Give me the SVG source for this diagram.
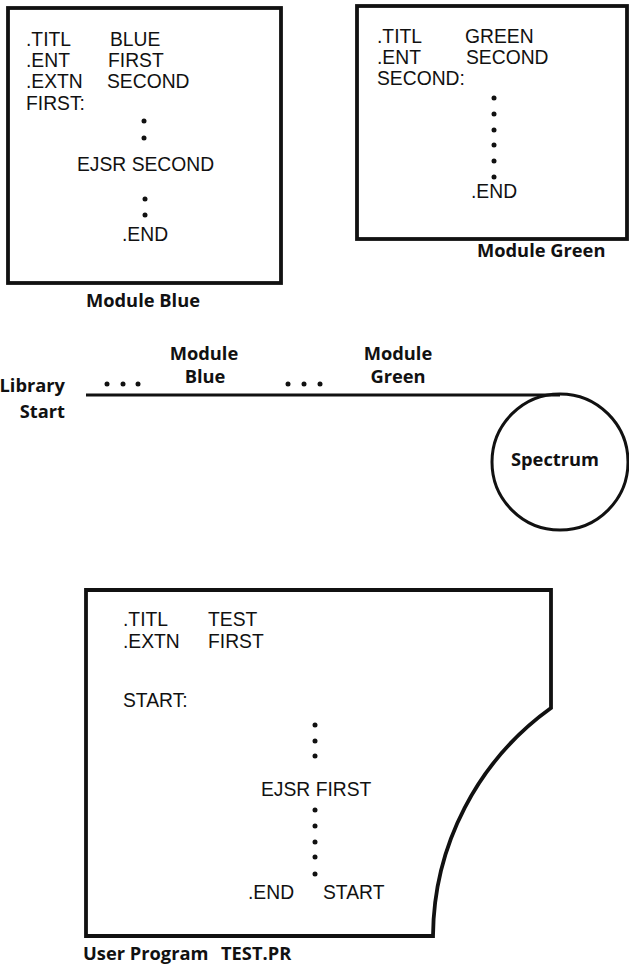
<svg xmlns="http://www.w3.org/2000/svg" width="629" height="970" viewBox="0 0 629 970">
<style>
.code{font-family:"Liberation Sans",Arial,sans-serif;font-size:19.3px;fill:#111}
.lbl{font-family:"Open Sans","Liberation Sans",sans-serif;font-weight:bold;font-size:18.3px;fill:#111}
.box{fill:#fff;stroke:#111;stroke-width:3.8}
.ln{fill:none;stroke:#111;stroke-width:3.2}
.dot{fill:#111}
</style>
<rect width="629" height="970" fill="#fff"/>
<g id="module-blue">
<rect class="box" x="8" y="8" width="273" height="275"/>
<text class="code" x="26" y="46">.TITL</text><text class="code" x="110" y="46">BLUE</text>
<text class="code" x="26" y="67">.ENT</text><text class="code" x="108" y="67">FIRST</text>
<text class="code" x="26" y="88">.EXTN</text><text class="code" x="107" y="88">SECOND</text>
<text class="code" x="26" y="110">FIRST:</text>
<circle class="dot" cx="144" cy="121" r="2.5"/><circle class="dot" cx="144" cy="138" r="2.5"/>
<text class="code" x="77" y="171">EJSR SECOND</text>
<circle class="dot" cx="145" cy="199" r="2.5"/><circle class="dot" cx="145" cy="215" r="2.5"/>
<text class="code" x="122" y="241">.END</text>
<text class="lbl" x="86" y="307">Module Blue</text>
</g>
<g id="module-green">
<rect class="box" x="357" y="6" width="270" height="233"/>
<text class="code" x="377" y="43">.TITL</text><text class="code" x="465" y="43">GREEN</text>
<text class="code" x="377" y="64">.ENT</text><text class="code" x="466" y="64">SECOND</text>
<text class="code" x="377" y="85">SECOND:</text>
<circle class="dot" cx="494" cy="98" r="2.5"/><circle class="dot" cx="494" cy="114" r="2.5"/><circle class="dot" cx="494" cy="130" r="2.5"/><circle class="dot" cx="494" cy="145" r="2.5"/><circle class="dot" cx="494" cy="161" r="2.5"/><circle class="dot" cx="494" cy="177" r="2.5"/>
<text class="code" x="471" y="198">.END</text>
<text class="lbl" x="477" y="257">Module Green</text>
</g>
<g id="library">
<line class="ln" x1="86" y1="395" x2="560" y2="395"/>
<text class="lbl" x="65" y="392" text-anchor="end">Library</text>
<text class="lbl" x="65" y="418" text-anchor="end">Start</text>
<circle class="dot" cx="107" cy="384" r="2.5"/><circle class="dot" cx="123" cy="384" r="2.5"/><circle class="dot" cx="138" cy="384" r="2.5"/>
<text class="lbl" x="204" y="360" text-anchor="middle">Module</text>
<text class="lbl" x="205" y="383" text-anchor="middle">Blue</text>
<circle class="dot" cx="288" cy="384" r="2.5"/><circle class="dot" cx="304" cy="384" r="2.5"/><circle class="dot" cx="320" cy="384" r="2.5"/>
<text class="lbl" x="398" y="360" text-anchor="middle">Module</text>
<text class="lbl" x="398" y="383" text-anchor="middle">Green</text>
</g>
<g id="spectrum">
<circle cx="560" cy="462" r="68" fill="none" stroke="#111" stroke-width="3"/>
<text class="lbl" x="555" y="466" text-anchor="middle">Spectrum</text>
</g>
<g id="user-program">
<path class="box" d="M86,590 H551 V708 A283,283 0 0 0 433,936 H86 Z"/>
<text class="code" x="123" y="626">.TITL</text><text class="code" x="208" y="626">TEST</text>
<text class="code" x="123" y="648">.EXTN</text><text class="code" x="208" y="648">FIRST</text>
<text class="code" x="123" y="707">START:</text>
<circle class="dot" cx="315" cy="725" r="2.5"/><circle class="dot" cx="315" cy="741" r="2.5"/><circle class="dot" cx="315" cy="756" r="2.5"/>
<text class="code" x="261" y="796">EJSR FIRST</text>
<circle class="dot" cx="315" cy="810" r="2.5"/><circle class="dot" cx="315" cy="826" r="2.5"/><circle class="dot" cx="315" cy="842" r="2.5"/><circle class="dot" cx="315" cy="857" r="2.5"/><circle class="dot" cx="315" cy="874" r="2.5"/>
<text class="code" x="248" y="899">.END</text><text class="code" x="323" y="899">START</text>
<text class="lbl" y="960"><tspan x="83">User Program</tspan><tspan x="221">TEST.PR</tspan></text>
</g>
<g id="connectors"></g>
</svg>
